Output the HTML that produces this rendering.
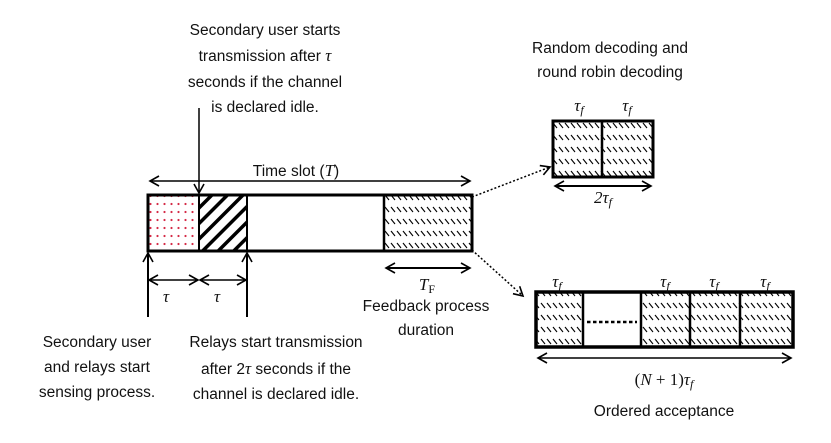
<!DOCTYPE html>
<html><head><meta charset="utf-8"><style>
html,body{margin:0;padding:0;background:#fff}
svg text{font-family:"Liberation Sans",sans-serif;font-size:15.5px;fill:#111}
.m{font-family:"Liberation Serif",serif;font-style:italic;font-size:17px}
</style></head><body>
<svg width="831" height="438" viewBox="0 0 831 438" xmlns="http://www.w3.org/2000/svg">
<defs>
<pattern id="dots" width="7" height="8" patternUnits="userSpaceOnUse"><circle cx="3.5" cy="4" r="1.1" fill="#d42a45"/></pattern>
<pattern id="diag" width="11" height="11" patternUnits="userSpaceOnUse" patternTransform="rotate(45)"><rect x="0" y="0" width="3.5" height="11" fill="#000"/></pattern>
<pattern id="hatch" width="6" height="12" patternUnits="userSpaceOnUse"><line x1="1" y1="3" x2="5" y2="8" stroke="#000" stroke-width="1.1"/></pattern>
<marker id="ah" markerWidth="12" markerHeight="12" refX="10" refY="6" orient="auto-start-reverse" markerUnits="userSpaceOnUse"><path d="M1,1 L10,6 L1,11" fill="none" stroke="#000" stroke-width="1.6"/></marker>
</defs>
<g fill="none" stroke="#000">
<rect x="148" y="195" width="51" height="56" fill="url(#dots)" stroke="none"/>
<rect x="199" y="195" width="48" height="56" fill="url(#diag)" stroke="none"/>
<rect x="384" y="195" width="88" height="56" fill="url(#hatch)" stroke="none"/>
<rect x="148" y="195" width="324" height="56" stroke-width="3"/>
<line x1="199" y1="195" x2="199" y2="251" stroke-width="2"/>
<line x1="247" y1="195" x2="247" y2="251" stroke-width="2"/>
<line x1="384" y1="195" x2="384" y2="251" stroke-width="2.5"/>
<line x1="150" y1="181" x2="470" y2="181" stroke-width="1.5" marker-end="url(#ah)" marker-start="url(#ah)"/>
<line x1="199" y1="108" x2="199" y2="193" stroke-width="1.5" marker-end="url(#ah)"/>
<line x1="148" y1="317" x2="148" y2="253" stroke-width="2" marker-end="url(#ah)"/>
<line x1="247" y1="317" x2="247" y2="253" stroke-width="2" marker-end="url(#ah)"/>
<line x1="149" y1="280" x2="198" y2="280" stroke-width="1.5" marker-start="url(#ah)" marker-end="url(#ah)"/>
<line x1="200" y1="280" x2="246" y2="280" stroke-width="1.5" marker-start="url(#ah)" marker-end="url(#ah)"/>
<line x1="386" y1="268" x2="470" y2="268" stroke-width="2" marker-end="url(#ah)" marker-start="url(#ah)"/>
<line x1="472" y1="197" x2="550" y2="167" stroke-width="1.5" stroke-dasharray="2,2" marker-end="url(#ah)"/>
<line x1="472" y1="250" x2="523" y2="296" stroke-width="1.5" stroke-dasharray="2,2" marker-end="url(#ah)"/>
<rect x="553" y="121" width="100" height="56" fill="url(#hatch)" stroke="none"/>
<rect x="553" y="121" width="100" height="56" stroke-width="3"/>
<line x1="602" y1="121" x2="602" y2="177" stroke-width="2.5"/>
<line x1="555" y1="186" x2="651" y2="186" stroke-width="2" marker-end="url(#ah)" marker-start="url(#ah)"/>
<rect x="536" y="292" width="257" height="55" fill="url(#hatch)" stroke="none"/>
<rect x="583" y="292" width="58" height="55" fill="#fff" stroke="none"/>
<rect x="536" y="292" width="257" height="55" stroke-width="3.5"/>
<line x1="583" y1="292" x2="583" y2="347" stroke-width="2.5"/>
<line x1="641" y1="292" x2="641" y2="347" stroke-width="2.5"/>
<line x1="690" y1="292" x2="690" y2="347" stroke-width="2.5"/>
<line x1="740" y1="292" x2="740" y2="347" stroke-width="2.5"/>
<line x1="587" y1="322" x2="637" y2="322" stroke-width="2.5" stroke-dasharray="3.5,2.5"/>
<line x1="538" y1="358" x2="791" y2="358" stroke-width="1.5" marker-end="url(#ah)" marker-start="url(#ah)"/>
</g>
<g text-anchor="middle">
<text x="265" y="35">Secondary user starts</text>
<text x="265" y="61">transmission after <tspan class="m">τ</tspan></text>
<text x="265" y="87">seconds if the channel</text>
<text x="265" y="112">is declared idle.</text>
<text x="296" y="176">Time slot (<tspan class="m">T</tspan>)</text>
<text x="610" y="53">Random decoding and</text>
<text x="610" y="77">round robin decoding</text>
<text class="m" x="579" y="111">τ<tspan font-size="12" dy="3">f</tspan></text>
<text class="m" x="627" y="111">τ<tspan font-size="12" dy="3">f</tspan></text>
<text class="m" x="603" y="203">2τ<tspan font-size="12" dy="3">f</tspan></text>
<text class="m" x="557" y="287">τ<tspan font-size="12" dy="3">f</tspan></text>
<text class="m" x="665" y="287">τ<tspan font-size="12" dy="3">f</tspan></text>
<text class="m" x="714" y="287">τ<tspan font-size="12" dy="3">f</tspan></text>
<text class="m" x="765" y="287">τ<tspan font-size="12" dy="3">f</tspan></text>
<text class="m" x="664" y="385"><tspan font-style="normal">(</tspan>N<tspan font-style="normal"> + 1)</tspan>τ<tspan font-size="12" dy="3">f</tspan></text>
<text x="664" y="416">Ordered acceptance</text>
<text class="m" x="166" y="302">τ</text>
<text class="m" x="217" y="302">τ</text>
<text class="m" x="427" y="290">T<tspan font-style="normal" font-size="12" dy="3">F</tspan></text>
<text x="426" y="311">Feedback process</text>
<text x="426" y="335">duration</text>
<text x="97" y="347">Secondary user</text>
<text x="97" y="372">and relays start</text>
<text x="97" y="397">sensing process.</text>
<text x="276" y="347">Relays start transmission</text>
<text x="276" y="374">after 2<tspan class="m">τ</tspan> seconds if the</text>
<text x="276" y="399">channel is declared idle.</text>
</g>
</svg>
</body></html>
